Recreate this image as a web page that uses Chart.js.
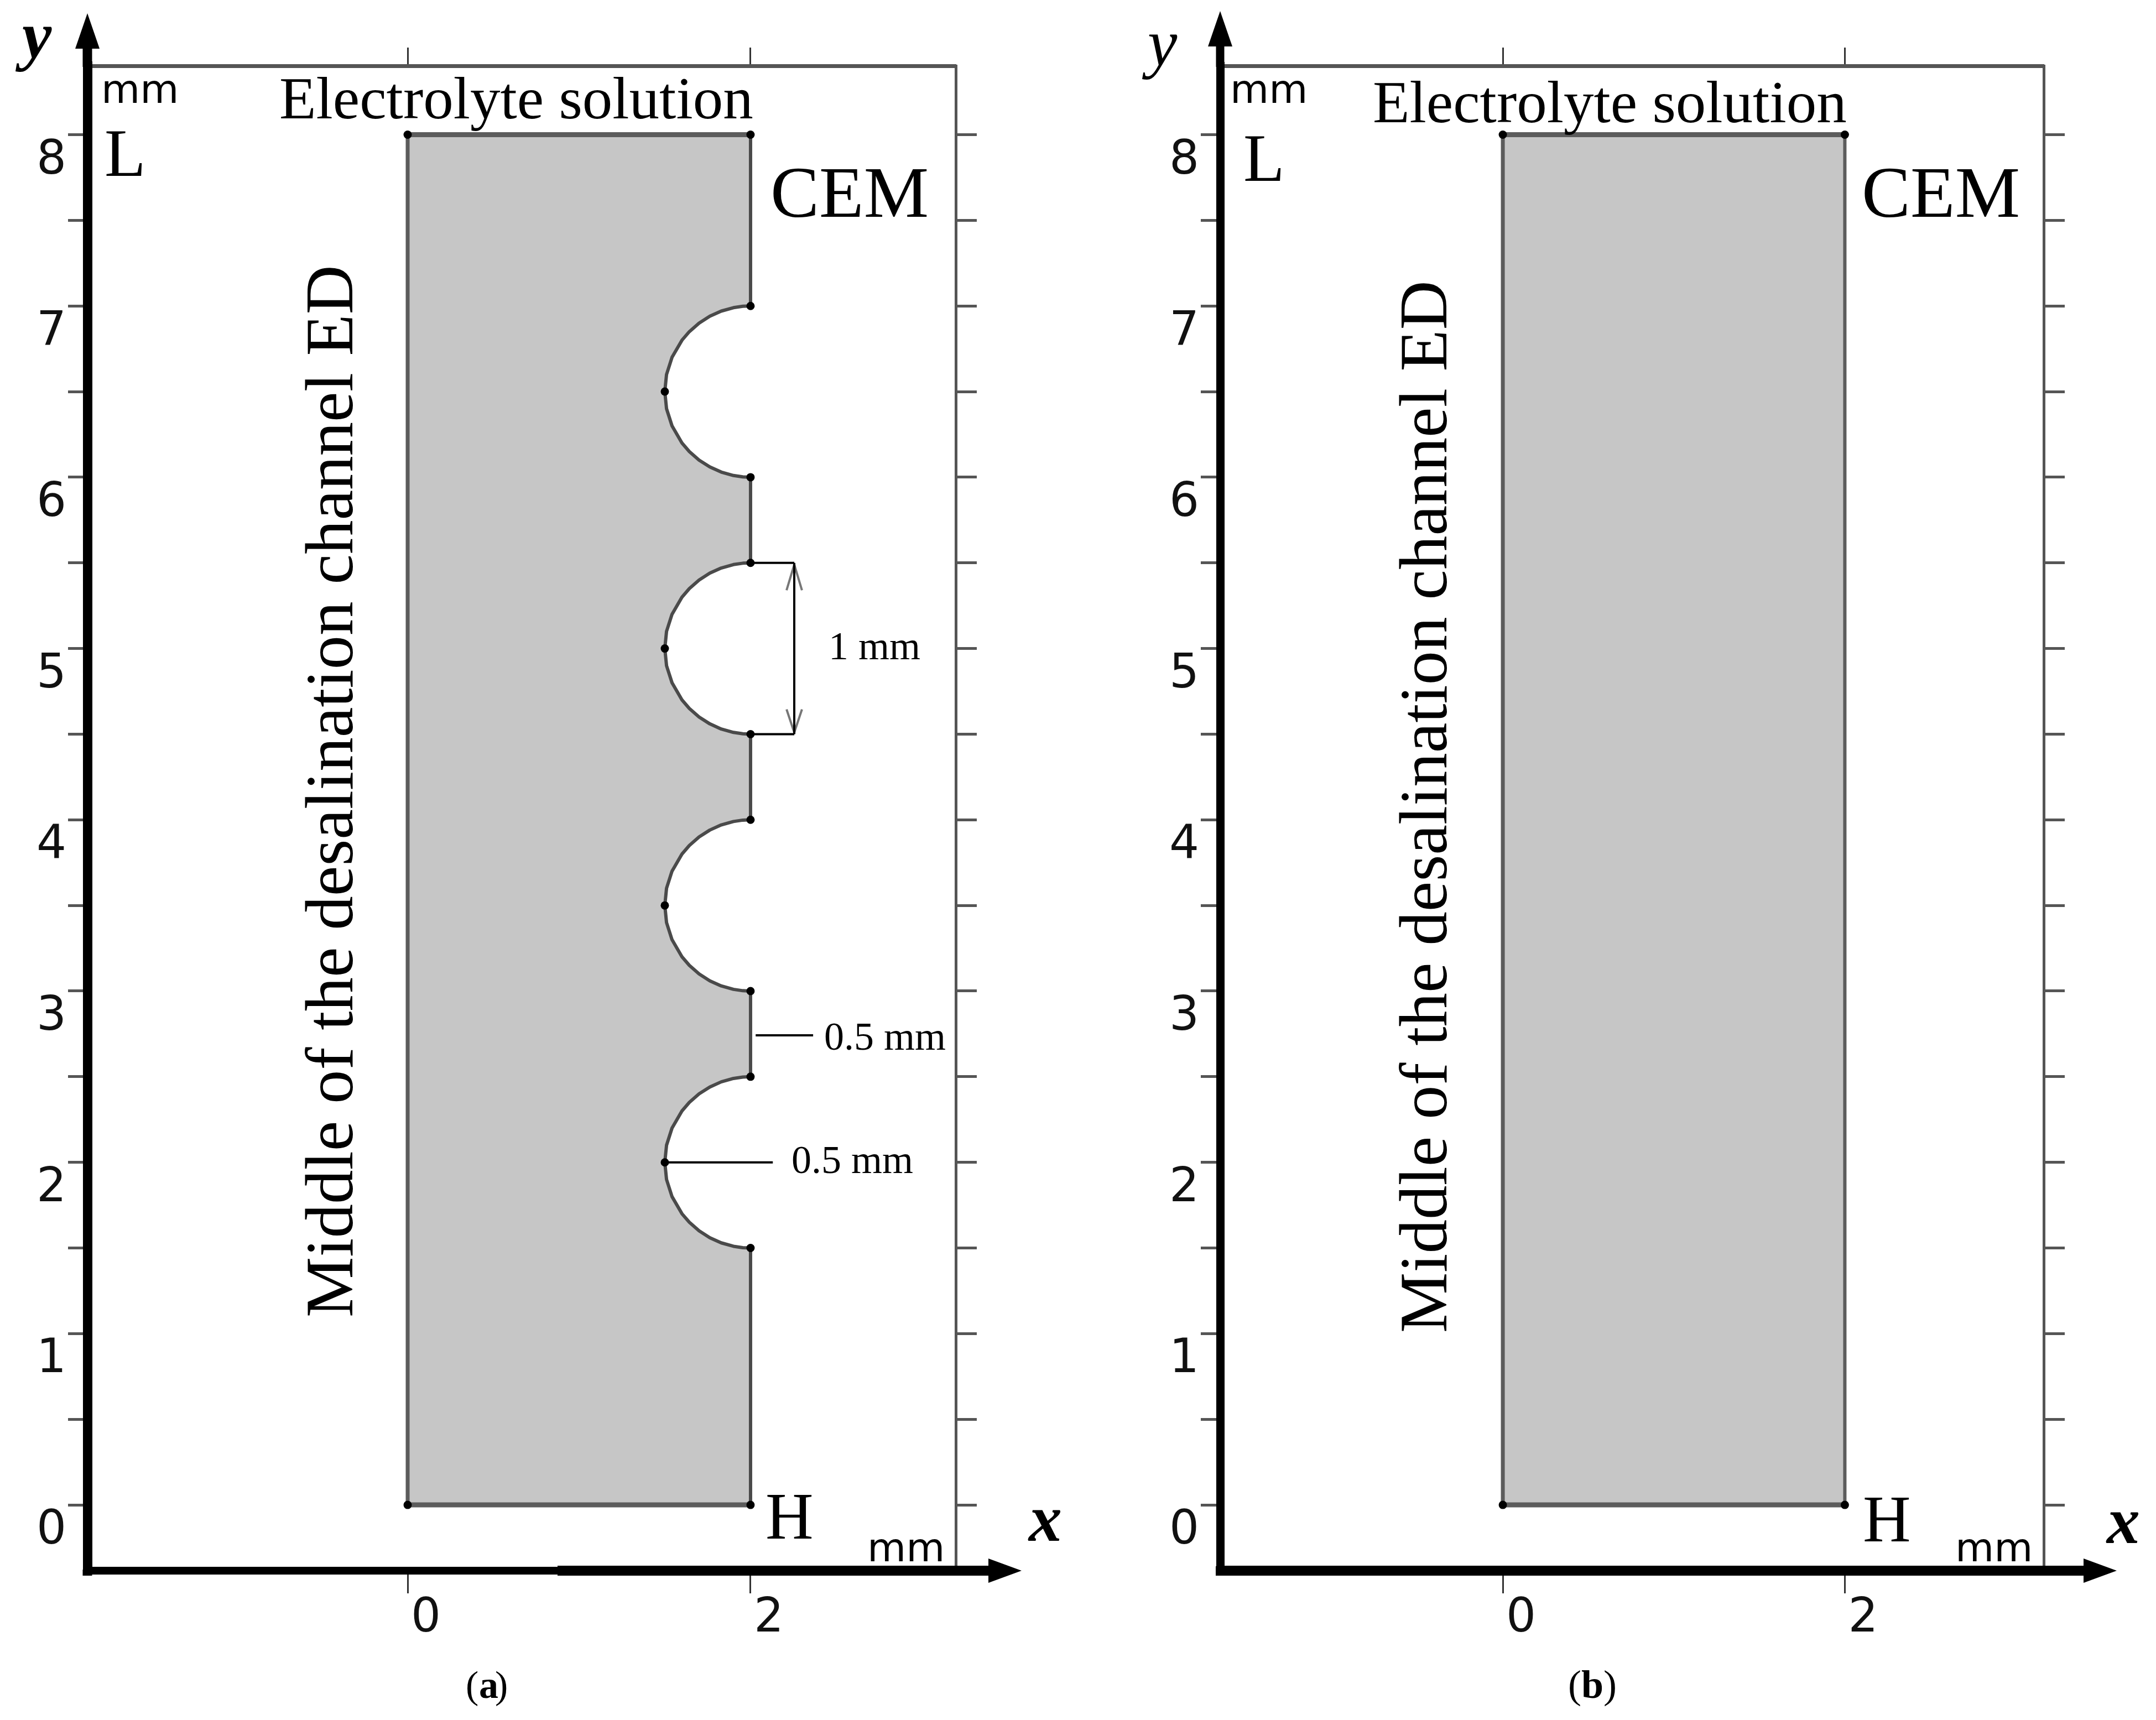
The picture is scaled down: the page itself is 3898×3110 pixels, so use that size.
<!DOCTYPE html>
<html><head><meta charset="utf-8">
<script src="https://cdn.jsdelivr.net/npm/chart.js@4"></script>
<style>
html,body{margin:0;padding:0;background:#fff;width:3898px;height:3110px;overflow:hidden}
canvas{position:absolute;top:0}
</style></head><body>
<canvas id="a" width="1950" height="3110" style="left:0"></canvas>
<canvas id="b" width="1948" height="3110" style="left:1950px"></canvas>
<script>
// ---- values (mm) ----
const yTickLabels = [0,1,2,3,4,5,6,7,8];
const xTickLabels = [0,2];
const channelWidth = 2;
const channelHeight = 8;
const notchCentres = [2,3.5,5,6.5];
const arcOffsets = [-0.5,-0.498,-0.49,-0.47,-0.44,-0.4,-0.35,-0.3,-0.2,-0.1,0,0.1,0.2,0.3,0.35,0.4,0.44,0.47,0.49,0.498,0.5];
const arcDepthX  = [2,1.955,1.9005,1.829,1.7625,1.7,1.643,1.6,1.542,1.51,1.5,1.51,1.542,1.6,1.643,1.7,1.7625,1.829,1.9005,1.955,2];
const leaderUpperX = [2.03,2.365];
const leaderUpperY = 2.742;
const leaderLowerX = [1.5,2.13];
const leaderLowerY = 2;
const dimX = 2.255;
const dimY = [4.5,5.5];
const wingX = [2.21,2.30];
const wingTipY = [4.51,5.49];
const wingEndY = [4.645,5.34];

// tables built from the arrays above
const profileA = [{x:channelWidth,y:0}];
notchCentres.forEach(c=>arcOffsets.forEach((d,i)=>profileA.push({x:arcDepthX[i],y:c+d})));
profileA.push({x:channelWidth,y:channelHeight});
const profileB = [{x:channelWidth,y:0},{x:channelWidth,y:channelHeight}];
const cornersDots = [{x:0,y:0},{x:channelWidth,y:0},{x:0,y:channelHeight},{x:channelWidth,y:channelHeight}];
const notchDots = [];
notchCentres.forEach(c=>{notchDots.push({x:channelWidth,y:c-0.5},{x:1.5,y:c},{x:channelWidth,y:c+0.5});});

const SERIF='"Liberation Serif"', SANS='"DejaVu Sans"';
const labelsA = [
 {t:'Electrolyte solution',x:505,y:214,f:`109px ${SERIF}`},
 {t:'CEM',x:1393,y:392,f:`132px ${SERIF}`},
 {t:'L',x:189,y:318,f:`122px ${SERIF}`},
 {t:'H',x:1384,y:2782,f:`120px ${SERIF}`},
 {t:'mm',x:183,y:186,f:`72px ${SANS}`},
 {t:'mm',x:1568,y:2823,f:`72px ${SANS}`},
 {t:'y',x:40,y:104,f:`italic bold 120px ${SERIF}`},
 {t:'x',x:1860,y:2786,f:`italic bold 120px ${SERIF}`},
 {t:'(',x:842,y:3070,f:`70px ${SERIF}`},
 {t:'a',x:866,y:3070,f:`bold 70px ${SERIF}`},
 {t:')',x:895,y:3070,f:`70px ${SERIF}`},
 {t:'Middle of the desalination channel ED',x:637,y:2382,f:`123px ${SERIF}`,r:-Math.PI/2},
 {t:'1 mm',x:1498,y:1192,f:`72px ${SERIF}`},
 {t:'0.5 mm',x:1490,y:1898,f:`72px ${SERIF}`},
 {t:'0.5 mm',x:1431,y:2121,f:`72px ${SERIF}`}
];
const labelsB = [
 {t:'Electrolyte solution',x:2482,y:221,f:`109px ${SERIF}`},
 {t:'CEM',x:3366,y:392,f:`132px ${SERIF}`},
 {t:'L',x:2248,y:327,f:`122px ${SERIF}`},
 {t:'H',x:3368,y:2787,f:`120px ${SERIF}`},
 {t:'mm',x:2224,y:186,f:`72px ${SANS}`},
 {t:'mm',x:3535,y:2823,f:`72px ${SANS}`},
 {t:'y',x:2075,y:118,f:`italic 120px ${SERIF}`},
 {t:'x',x:3809,y:2790,f:`italic bold 120px ${SERIF}`},
 {t:'(',x:2835,y:3070,f:`72px ${SERIF}`},
 {t:'b',x:2859,y:3070,f:`bold 72px ${SERIF}`},
 {t:')',x:2899,y:3070,f:`72px ${SERIF}`},
 {t:'Middle of the desalination channel ED',x:2615,y:2410,f:`123px ${SERIF}`,r:-Math.PI/2}
];

const overlay = {
  id:'overlay',
  afterDraw(chart,_,o){
    const c=chart.ctx, {left,right,top,bottom}=chart.chartArea;
    c.save();
    c.fillStyle='#000';
    // stems + arrowheads of the two main axes
    c.fillRect(left-o.axisW/2,o.tipY+30,o.axisW,top-o.tipY-30+2);
    c.fillRect(left-o.axisW/2,bottom-2,o.axisW,11);
    const tx=o.tipX-o.offset;
    c.fillRect(o.thickFrom-o.offset,bottom-9,tx-30-(o.thickFrom-o.offset),18);
    c.beginPath();c.moveTo(left,o.tipY);c.lineTo(left+22,o.tipY+64);c.lineTo(left-22,o.tipY+64);c.closePath();c.fill();
    c.beginPath();c.moveTo(tx,bottom);c.lineTo(tx-60,bottom+22);c.lineTo(tx-60,bottom-22);c.closePath();c.fill();
    c.textBaseline='alphabetic';c.textAlign='left';
    o.labels.forEach(l=>{
      c.save();
      c.font=l.f;
      c.translate(l.x-o.offset,l.y);
      if(l.r)c.rotate(l.r);
      c.fillText(l.t,0,0);
      c.restore();
    });
    c.restore();
  }
};

const lineDs=(data,color,width)=>({data,borderColor:color,borderWidth:width,pointRadius:0,fill:false,tension:0,borderCapStyle:'butt'});
const dotsDs=(data)=>({data,showLine:false,pointRadius:7.5,pointBackgroundColor:'#000',pointBorderWidth:0,fill:false});

function makeChart(id,cfg){
  const blank=v=>'' ;
  const yLabel=v=>yTickLabels.includes(v)?String(v):'';
  const xLabel=v=>xTickLabels.includes(v)?String(v):'';
  const fit=(k,v)=>(s)=>{s[k]=v;};
  return new Chart(document.getElementById(id),{
    type:'line',
    plugins:[overlay],
    data:{datasets:cfg.datasets},
    options:{
      indexAxis:'y',responsive:false,animation:false,devicePixelRatio:1,
      layout:{padding:0},
      elements:{line:{borderJoinStyle:'round'}},
      plugins:{legend:{display:false},tooltip:{enabled:false},overlay:cfg.overlay},
      scales:{
        x:{type:'linear',position:'bottom',min:cfg.xMin,max:cfg.xMax,
           border:{display:true,color:'#000',width:cfg.xAxisW},
           grid:{drawOnChartArea:false,drawTicks:true,tickLength:41,tickWidth:3,tickColor:'#333'},
           ticks:{stepSize:2,includeBounds:false,autoSkip:false,maxRotation:0,minRotation:0,padding:-4,labelOffset:33,color:'#111',font:{family:'DejaVu Sans',size:85},callback:xLabel},
           afterFit:fit('height',cfg.bottom)},
        x2:{type:'linear',position:'top',min:cfg.xMin,max:cfg.xMax,
           border:{display:true,color:'#555',width:7},
           grid:{drawOnChartArea:false,drawTicks:true,tickLength:33,tickWidth:3,tickColor:'#333'},
           ticks:{stepSize:2,includeBounds:false,autoSkip:false,maxRotation:0,minRotation:0,callback:blank},
           afterFit:fit('height',cfg.top)},
        y:{type:'linear',position:'left',min:cfg.yMin,max:cfg.yMax,
           border:{display:true,color:'#000',width:cfg.axisW},
           grid:{drawOnChartArea:false,drawTicks:true,tickLength:35,tickWidth:5,tickColor:'#555'},
           ticks:{stepSize:0.5,includeBounds:false,autoSkip:false,padding:3,labelOffset:48,color:'#111',font:{family:'DejaVu Sans',size:85},callback:yLabel},
           afterFit:fit('width',cfg.left)},
        y2:{type:'linear',position:'right',min:cfg.yMin,max:cfg.yMax,
           border:{display:true,color:'#555',width:5},
           grid:{drawOnChartArea:false,drawTicks:true,tickLength:38,tickWidth:5,tickColor:'#555'},
           ticks:{stepSize:0.5,includeBounds:false,autoSkip:false,callback:blank},
           afterFit:fit('width',cfg.right)}
      }
    }
  });
}

const EDGE='#5c5c5c', FILL='#c6c6c6';
const commonEdges=()=>[
  lineDs([{x:0,y:channelHeight},{x:channelWidth,y:channelHeight}],EDGE,9),
  lineDs([{x:0,y:0},{x:channelWidth,y:0}],EDGE,9),
  lineDs([{x:0,y:0},{x:0,y:channelHeight}],EDGE,7)
];

makeChart('a',{
  left:158,right:222,top:119,bottom:270,axisW:17,xAxisW:14,
  xMin:-1.868,xMax:3.197,yMin:-0.384,yMax:8.402,
  overlay:{labels:labelsA,offset:0,tipX:1847,tipY:24,axisW:17,thickFrom:1008},
  datasets:[
    dotsDs(cornersDots),dotsDs(notchDots),
    lineDs([{x:leaderUpperX[0],y:leaderUpperY},{x:leaderUpperX[1],y:leaderUpperY}],'#000',4),
    lineDs([{x:leaderLowerX[0],y:leaderLowerY},{x:leaderLowerX[1],y:leaderLowerY}],'#000',4),
    lineDs([{x:channelWidth,y:dimY[0]},{x:dimX,y:dimY[0]}],'#000',4),
    lineDs([{x:channelWidth,y:dimY[1]},{x:dimX,y:dimY[1]}],'#000',4),
    lineDs([{x:dimX,y:dimY[0]},{x:dimX,y:dimY[1]}],'#000',4),
    lineDs([{x:wingX[0],y:wingEndY[0]},{x:dimX,y:wingTipY[0]}],'#777',4),
    lineDs([{x:wingX[1],y:wingEndY[0]},{x:dimX,y:wingTipY[0]}],'#777',4),
    lineDs([{x:dimX,y:wingTipY[1]},{x:wingX[0],y:wingEndY[1]}],'#777',4),
    lineDs([{x:dimX,y:wingTipY[1]},{x:wingX[1],y:wingEndY[1]}],'#777',4),
    ...commonEdges(),
    {data:profileA,borderColor:'#4a4a4a',borderWidth:6,pointRadius:0,tension:0,backgroundColor:FILL,fill:{value:0}}
  ]
});

makeChart('b',{
  left:256,right:203,top:119,bottom:270,axisW:15,xAxisW:17,
  xMin:-1.653,xMax:3.163,yMin:-0.384,yMax:8.402,
  overlay:{labels:labelsB,offset:1950,tipX:3827,tipY:20,axisW:15,thickFrom:2206},
  datasets:[
    dotsDs(cornersDots),
    ...commonEdges(),
    {data:profileB,borderColor:EDGE,borderWidth:6,pointRadius:0,tension:0,backgroundColor:FILL,fill:{value:0}}
  ]
});
</script>
</body></html>
